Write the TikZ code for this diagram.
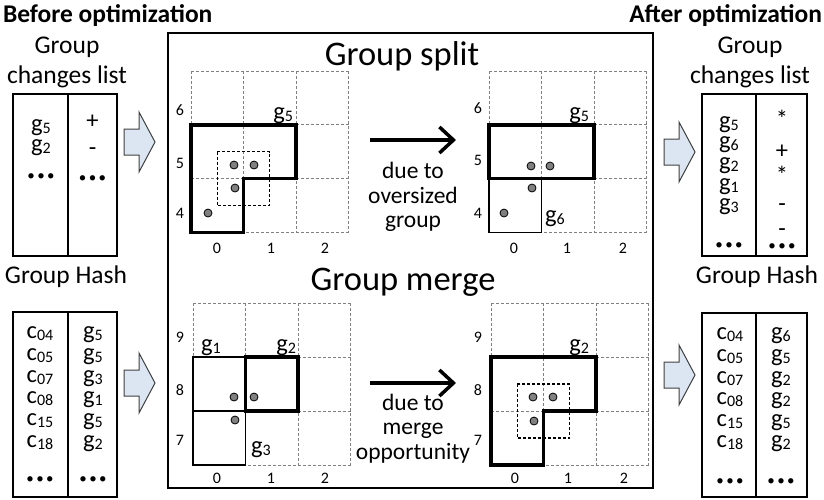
\documentclass[tikz,border=0pt]{standalone}
\usepackage{fontspec}
\setmainfont{Carlito}
\usetikzlibrary{arrows.meta}
\definecolor{arrowblue}{RGB}{220,230,242}
\definecolor{gridgray}{RGB}{128,128,128}
\definecolor{dotgray}{RGB}{128,128,128}
\newcommand\sbx[1]{\raisebox{-2.5pt}{\fontsize{16}{16}\selectfont #1}}
\newcommand\threedots{{\fontsize{15}{15}\selectfont\textbullet\hspace{2.5pt}\textbullet\hspace{2.5pt}\textbullet}}
\tikzset{
  every node/.style={inner sep=0pt, outer sep=0pt},
  lst/.style={font=\fontsize{24.5}{24.5}\selectfont, anchor=base},
  ttl/.style={font=\fontsize{34.5}{34.5}\selectfont, anchor=base},
  hdr/.style={font=\bfseries\fontsize{25.5}{25.5}\selectfont},
  lbl/.style={font=\fontsize{25.5}{25.5}\selectfont, anchor=base},
  captxt/.style={font=\fontsize{23.5}{23.5}\selectfont, anchor=base},
  axl/.style={font=\fontsize{16}{16}\selectfont},
  dotrow/.style={},
  cellgrid/.style={draw=gridgray, dash pattern=on 3pt off 2pt, line width=1pt},
  thickg/.style={draw=black, line width=3.5pt, line join=miter},
  thing/.style={draw=black, line width=1.5pt},
  innerd/.style={draw=black, line width=1.3pt, dash pattern=on 3pt off 2pt},
  pt/.style={circle, fill=dotgray, draw=black, line width=0.8pt, minimum size=8pt},
  flow/.style={line width=3.5pt, -{Straight Barb[length=14pt,width=26pt]}},
  barrow/.style={draw=black!75, fill=arrowblue, line width=1pt, line join=miter},
  cellbox/.style={draw=black, line width=1.5pt, anchor=north west},
}
\newcommand\blockarr[2]{\draw[barrow, shift={(#1,#2)}] (-31,-13) -- (-16,-13) -- (-16,-30) -- (0,0) -- (-16,30) -- (-16,13) -- (-31,13) -- cycle;}
\newcommand\dashgrid{\foreach \k in {0,1,2,3}{\draw[cellgrid] (\k,0) -- (\k,3); \draw[cellgrid] (0,\k) -- (3,\k);}}
\begin{document}
\begin{tikzpicture}[x=1pt,y=-1pt]
\useasboundingbox (0,0) rectangle (824,499);

% headers
\node[hdr, anchor=base west] (hbefore) at (3,22) {Before optimization};
\node[hdr, anchor=base east] (hafter) at (822,22) {After optimization};

% central panel
\node[draw=black, line width=1.2pt, minimum width=485pt, minimum height=455pt] (panel) at (410.5,260.5) {};
\node[ttl] (tsplit) at (402,65) {Group split};
\node[ttl] (tmerge) at (403,290) {Group merge};

% ---------- left: group changes list ----------
\node[lbl] (lgroup) at (67,53) {Group};
\node[lbl] (lchg) at (67,83) {changes list};
\node[cellbox, minimum width=55pt, minimum height=162pt] (lca) at (13,94) {};
\node[cellbox, minimum width=49pt, minimum height=162pt] (lcb) at (68,94) {};
\node[lst] (lc1) at (41,131) {g\sbx{5}};
\node[lst] (lc2) at (41,151) {g\sbx{2}};
\node[dotrow] (lc3) at (41,177) {\threedots};
\node[lst] (lc4) at (92.5,128) {+};
\node[lst] (lc5) at (92.5,155) {-};
\node[dotrow] (lc6) at (92.5,179) {\threedots};

% ---------- left: group hash ----------
\node[lbl] (lhash) at (66,283) {Group Hash};
\node[cellbox, minimum width=55pt, minimum height=185pt] (lha) at (13,312) {};
\node[cellbox, minimum width=49pt, minimum height=185pt] (lhb) at (68,312) {};
\foreach \c/\g/\yy [count=\i] in {04/5/338,05/5/360,07/3/382,08/1/403,15/5/425,18/2/447}{
  \node[lst] (lhc\i) at (40,\yy) {c\sbx{\c}};
  \node[lst] (lhg\i) at (93,\yy) {g\sbx{\g}};
}
\node[dotrow] (lhd1) at (40,480) {\threedots};
\node[dotrow] (lhd2) at (93,480) {\threedots};

% ---------- right: group changes list ----------
\node[lbl] (rgroup) at (750,53) {Group};
\node[lbl] (rchg) at (750,83) {changes list};
\node[cellbox, minimum width=54pt, minimum height=162pt] (rca) at (702,94) {};
\node[cellbox, minimum width=51pt, minimum height=162pt] (rcb) at (756,94) {};
\node[lst] (rc1) at (729,128) {g\sbx{5}};
\node[lst] (rc2) at (729,148) {g\sbx{6}};
\node[lst] (rc3) at (729,169) {g\sbx{2}};
\node[lst] (rc4) at (729,190) {g\sbx{1}};
\node[lst] (rc5) at (729,210) {g\sbx{3}};
\node[dotrow] (rc6) at (729,246) {\threedots};
\node[lst] (rs1) at (782,127) {*};
\node[lst] (rs2) at (782,158) {+};
\node[lst] (rs3) at (782,183) {*};
\node[lst] (rs4) at (782,211) {-};
\node[lst] (rs5) at (782,236) {-};
\node[dotrow] (rs6) at (782,247) {\threedots};

% ---------- right: group hash ----------
\node[lbl] (rhash) at (757,283) {Group Hash};
\node[cellbox, minimum width=54pt, minimum height=184pt] (rha) at (702,313) {};
\node[cellbox, minimum width=51pt, minimum height=184pt] (rhb) at (756,313) {};
\foreach \c/\g/\yy [count=\i] in {04/6/339,05/5/361,07/2/383,08/2/404,15/5/426,18/2/447}{
  \node[lst] (rhc\i) at (730,\yy) {c\sbx{\c}};
  \node[lst] (rhg\i) at (781,\yy) {g\sbx{\g}};
}
\node[dotrow] (rhd1) at (730,482) {\threedots};
\node[dotrow] (rhd2) at (781,482) {\threedots};

% block arrows
\blockarr{155}{142}
\blockarr{155}{383}
\blockarr{695}{152}
\blockarr{695}{375}

% ---------- grid 1: split, before ----------
\begin{scope}[shift={(191,71)}, x=52.5pt, y=-53.8pt]
  \dashgrid
  \draw[thickg] (0,1) -- (2,1) -- (2,2) -- (1,2) -- (1,3) -- (0,3) -- cycle;
  \draw[innerd] (0.5,1.5) rectangle (1.5,2.5);
\end{scope}
\node[pt] (d11) at (234,165) {};
\node[pt] (d12) at (254,165) {};
\node[pt] (d13) at (235,188) {};
\node[pt] (d14) at (208,213) {};
\node[lst, anchor=base east] (g1a) at (293,119) {g\sbx{5}};

% ---------- grid 2: split, after ----------
\begin{scope}[shift={(489,71)}, x=52.5pt, y=-53.8pt]
  \dashgrid
  \draw[thing] (0,2) rectangle (1,3);
  \draw[thickg] (0,1) rectangle (2,2);
\end{scope}
\node[pt] (d21) at (531,166) {};
\node[pt] (d22) at (550,166) {};
\node[pt] (d23) at (532,188) {};
\node[pt] (d24) at (504,213) {};
\node[lst, anchor=base east] (g2a) at (589,119) {g\sbx{5}};
\node[lst, anchor=base west] (g2b) at (545,222) {g\sbx{6}};

% ---------- grid 3: merge, before ----------
\begin{scope}[shift={(193,303)}, x=52.5pt, y=-54pt]
  \dashgrid
  \draw[thing] (0,1) rectangle (1,2);
  \draw[thing] (0,2) rectangle (1,3);
  \draw[thickg] (1,1) rectangle (2,2);
\end{scope}
\node[pt] (d31) at (234,397) {};
\node[pt] (d32) at (254,397) {};
\node[pt] (d33) at (235,420) {};
\node[lst, anchor=base west] (g3a) at (201,351) {g\sbx{1}};
\node[lst, anchor=base east] (g3b) at (296,351) {g\sbx{2}};
\node[lst, anchor=base west] (g3c) at (251,453) {g\sbx{3}};

% ---------- grid 4: merge, after ----------
\begin{scope}[shift={(491,303)}, x=52.5pt, y=-54pt]
  \dashgrid
  \draw[thickg] (0,1) -- (2,1) -- (2,2) -- (1,2) -- (1,3) -- (0,3) -- cycle;
  \draw[innerd] (0.5,1.5) rectangle (1.5,2.5);
\end{scope}
\node[pt] (d41) at (533,397) {};
\node[pt] (d42) at (553,397) {};
\node[pt] (d43) at (534,421) {};
\node[lst, anchor=base east] (g4a) at (589,351) {g\sbx{2}};

% axis labels
\foreach \gx/\gy/\r [count=\i] in {180/110/6,180/163/5,180/213/4,478/108/6,478/160/5,478/213/4,180/337/9,180/390/8,180/440/7,478/337/9,478/390/8,478/440/7}{
  \node[axl] (row\i) at (\gx,\gy) {\r};
}
\foreach \gx/\gy/\cc [count=\i] in {217/248/0,271/248/1,325/248/2,514/248/0,567/248/1,623/248/2,217/478/0,271/478/1,325/478/2,515/478/0,568/478/1,624/478/2}{
  \node[axl] (col\i) at (\gx,\gy) {\cc};
}

% transformation arrows and captions
\coordinate (as1) at (370,140);
\coordinate (ae1) at (456,140);
\coordinate (as2) at (370,383);
\coordinate (ae2) at (456,383);
\draw[flow] (as1) -- (ae1);
\draw[flow] (as2) -- (ae2);
\node[captxt] (s1) at (413,178) {due to};
\node[captxt] (s2) at (413,203) {oversized};
\node[captxt] (s3) at (413,227) {group};
\node[captxt] (m1) at (413,410) {due to};
\node[captxt] (m2) at (413,434) {merge};
\node[captxt] (m3) at (413,459) {opportunity};
\end{tikzpicture}
\end{document}
